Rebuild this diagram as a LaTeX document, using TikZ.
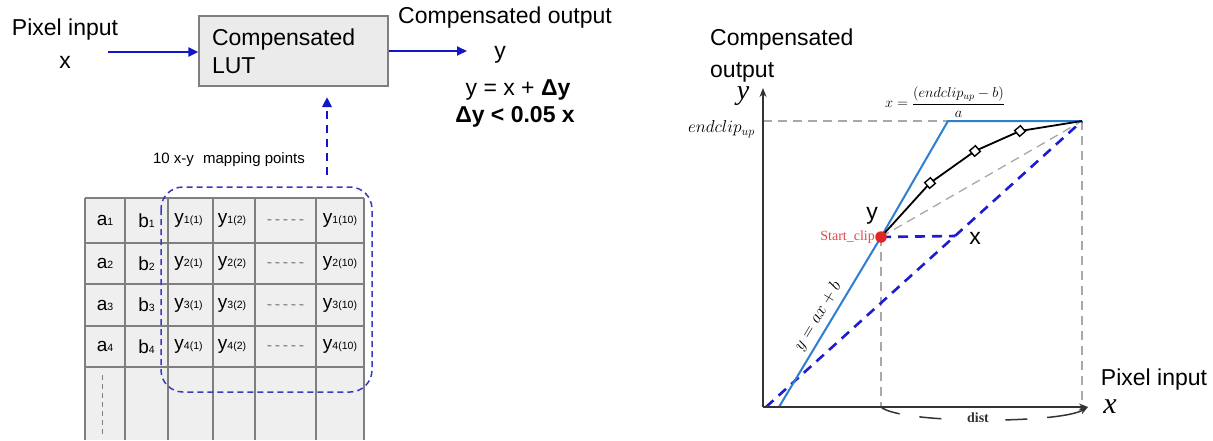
\documentclass[tikz,border=0pt]{standalone}
\usepackage{fontspec}
\setmainfont{Liberation Sans}
\newfontfamily\tms{Liberation Serif}
\usetikzlibrary{arrows.meta}
\definecolor{arrblue}{HTML}{1515C8}
\definecolor{lineblue}{HTML}{2E7FD2}
\definecolor{dblue}{HTML}{1C1CD0}
\definecolor{rectblue}{HTML}{3A3AC0}
\definecolor{gridgray}{HTML}{7F7F7F}
\definecolor{cellgray}{HTML}{EFEFEF}
\definecolor{boxgray}{HTML}{EBEBEB}
\definecolor{dgray}{HTML}{A8A8A8}
\definecolor{axisgray}{HTML}{333333}
\definecolor{clipred}{HTML}{E02525}
\definecolor{textred}{HTML}{E04848}
\newcommand\tcell[2]{{\fontsize{19}{19}\selectfont #1}{\fontsize{10.5}{10.5}\selectfont #2}}
\begin{document}
\begin{tikzpicture}[x=1pt,y=-1pt,
  lbl/.style={inner sep=0pt, font=\fontsize{23}{27}\selectfont},
  arr/.style={arrblue, line width=2pt, -{Triangle[length=10pt,width=9pt]}},
  darr/.style={arrblue, line width=2.6pt, dash pattern=on 8pt off 6pt, -{Triangle[length=10pt,width=9pt]}},
  cell/.style={inner sep=0pt},
  grid/.style={gridgray, line width=1.2pt},
  gdash/.style={dgray, line width=1.3pt, dash pattern=on 9pt off 6pt},
  bdash/.style={dblue, line width=2.6pt, dash pattern=on 10pt off 7pt},
  axis/.style={axisgray, line width=1.4pt, -{Stealth[length=9pt,width=7pt]}},
  mk/.style={draw=black, fill=white, line width=1.4pt, minimum size=7.5pt, inner sep=0pt, rotate=40}
]
\fill[white] (0,0) rectangle (1213,440);
\useasboundingbox (0,0) rectangle (1213,440);

% ---------- left block diagram ----------
\node[lbl] (pin) at (65,30) {Pixel input};
\node[lbl] (xin) at (65,62) {x};
\node[draw=gridgray, fill=boxgray, line width=1.2pt, minimum height=70pt,
      text width=163pt, inner xsep=13pt, align=left,
      font=\fontsize{23}{28}\selectfont] (lut) at (293.5,51) {Compensated\\LUT};
\coordinate (ain) at (108,52);
\draw[arr] (ain) -- (ain -| lut.west);
\coordinate (aout) at (467,51);
\draw[arr] (lut.east |- aout) -- (aout);
\node[lbl] (cout) at (505,18) {Compensated output};
\node[lbl] (yout) at (500,55) {y};
\node[lbl] (eq1) at (518,90) {y = x + \textbf{Δy}};
\node[lbl, font=\fontsize{23}{27}\selectfont\bfseries] (eq2) at (515,117) {Δy < 0.05 x};
\coordinate (dstart) at (327,175);
\coordinate (dend) at (327,97);
\draw[darr] (dstart) -- (dend);
\node[inner sep=0pt, font=\fontsize{15}{17}\selectfont] (map) at (229,160) {10 x-y\hspace{5pt} mapping points};

% ---------- table ----------
\fill[cellgray] (85,198) rectangle (364,440);
\foreach \xx in {85,125,168,213,255,316,364} \draw[grid] (\xx,198) -- (\xx,440);
\foreach \yy in {198,243,284,326,367} \draw[grid] (85,\yy) -- (364,\yy);
\foreach \r/\yc in {1/220.5,2/263.5,3/305,4/346.5}{
  \node[cell] (a\r) at (105,\yc) {\tcell{a}{\r}};
  \node[cell] (b\r) at (146.5,\yc) {\tcell{b}{\r}};
  \node[cell] (y\r a) at (188.5,\yc) {\tcell{y}{\r(1)}};
  \node[cell] (y\r b) at (232,\yc) {\tcell{y}{\r(2)}};
  \node[cell, text=gridgray, font=\fontsize{16}{16}\selectfont] (d\r) at (285.5,\yc+2) {-\,-\,-\,-\,-};
  \node[cell] (y\r c) at (340,\yc) {\tcell{y}{\r(10)}};
}
\draw[gridgray, line width=1pt, dash pattern=on 5pt off 4pt] (102,375) -- (102,434);
\draw[rectblue, line width=1.5pt, dash pattern=on 6pt off 4pt, rounded corners=22pt] (161,187) rectangle (372,392);

% ---------- right graph ----------
\coordinate (O) at (763,407);
\coordinate (ytop) at (763,88);
\coordinate (xend) at (1088,407);
\coordinate (TR) at (1082,121);
\coordinate (EL) at (763,121);
\coordinate (BT) at (948,121);
\coordinate (B0) at (779,407);
\coordinate (SC) at (881,237);
\coordinate (SCb) at (881,407);
\coordinate (TRb) at (1082,407);
\coordinate (P1) at (930,183);
\coordinate (P2) at (975,151);
\coordinate (P3) at (1020,131);
\coordinate (XC) at (955,236);
\coordinate (D0) at (766,407);

\draw[gdash] (EL) -- (TR);
\draw[gdash] (TR) -- (TRb);
\draw[gdash] (SC) -- (SCb);
\draw[gdash] (SC) -- (TR);
\draw[bdash] (D0) -- (TR);
\draw[bdash] (SC) -- (XC);
\draw[lineblue, line width=2pt] (B0) -- (SC) -- (BT) -- (TR);
\draw[black, line width=1.8pt] (SC) -- (P1) -- (P2) -- (P3) -- (TR);
\node[mk] (m1) at (P1) {};
\node[mk] (m2) at (P2) {};
\node[mk] (m3) at (P3) {};
\draw[axis] (O) -- (ytop);
\draw[axis] (O) -- (xend);
\node[circle, fill=clipred, minimum size=11.5pt, inner sep=0pt] (scdot) at (SC) {};

\node[lbl, align=left, anchor=north west, font=\fontsize{23}{32}\selectfont] (cout2) at (710,29) {Compensated\\output};
\node[inner sep=0pt, font=\tms\itshape\fontsize{28}{28}\selectfont] (ylab) at (743,96) {y};
\node[inner sep=0pt, anchor=east, font=\fontsize{18}{18}\selectfont] (endclip) at (755,129) {$endclip_{up}$};
\node[inner sep=0pt, font=\fontsize{14.5}{14.5}\selectfont] (frac) at (945,102) {$x=\displaystyle\frac{(endclip_{up}-b)}{a}$};
\node[inner sep=0pt, anchor=east, text=textred, font=\tms\fontsize{14}{14}\selectfont] (sclbl) at (875,237) {Start\_clip};
\node[lbl] (ylbl2) at (872,216) {y};
\node[lbl] (xlbl2) at (975,238) {x};
\node[inner sep=0pt, rotate=59, font=\fontsize{17}{17}\selectfont] (eqline) at (818,316) {$y=ax+b$};
\node[lbl] (pin2) at (1154,380) {Pixel input};
\node[inner sep=0pt, font=\tms\itshape\fontsize{30}{30}\selectfont] (xlab) at (1110,407) {x};
\node[inner sep=0pt, text=axisgray, font=\tms\bfseries\fontsize{14}{14}\selectfont] (dist) at (978,418) {dist};
\draw[axisgray, line width=1.5pt, dash pattern=on 20pt off 20pt on 22pt off 64pt on 22pt off 20pt on 60pt, -{Stealth[length=9pt,width=6pt]}]
  (SCb) .. controls (900,424) and (1060,424) .. (xend);
\end{tikzpicture}
\end{document}
